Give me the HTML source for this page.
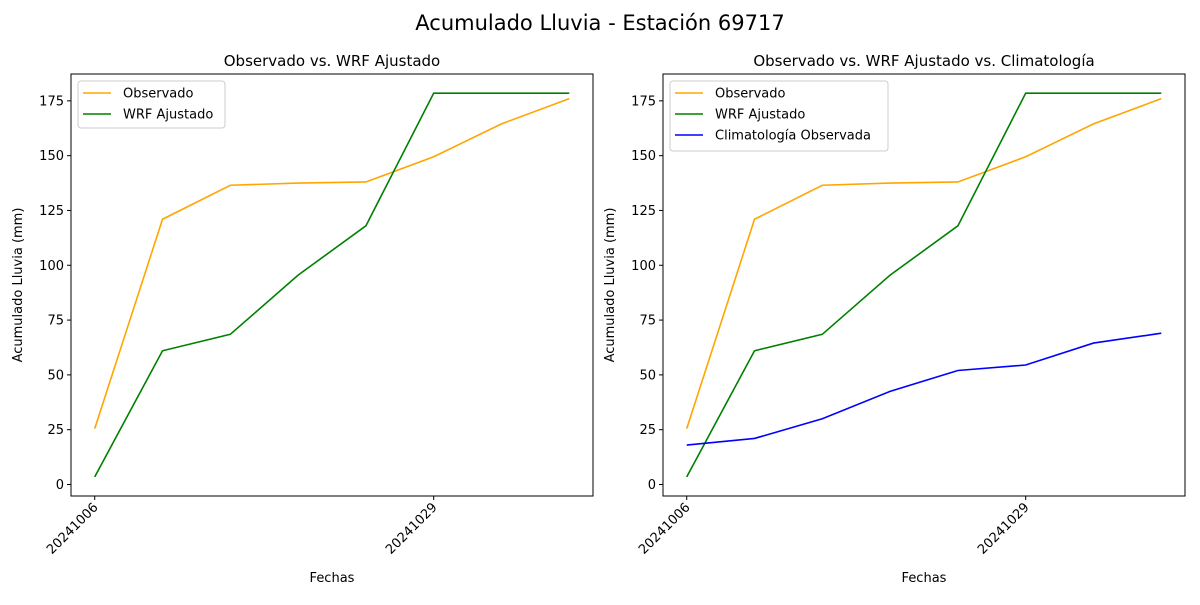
<!DOCTYPE html>
<html><head><meta charset="utf-8"><style>
body{margin:0;background:#fff;font-family:"Liberation Sans","DejaVu Sans",sans-serif}
svg text{font-family:"DejaVu Sans","Liberation Sans",sans-serif}
</style></head><body>
<svg id="chart" width="1200" height="600" xmlns="http://www.w3.org/2000/svg">
<rect width="1200" height="600" fill="#fff"/>
<text x="600" y="30" text-anchor="middle" font-size="21">Acumulado Lluvia - Estación 69717</text>
</svg>
<script>
const categories = ["20241006","","","","","20241029","",""];
const tickIdx = [0,5];
const observado = [25.5,121,136.5,137.5,138,149.5,164.5,176];
const wrf = [3.5,61,68.5,95.5,118,178.5,178.5,178.5];
const clima = [18,21,30,42.5,52,54.5,64.5,69];
const yTicks = [0,25,50,75,100,125,150,175];
const NS='http://www.w3.org/2000/svg';
const svg=document.getElementById('chart');
function mk(t,a,p){const e=document.createElementNS(NS,t);for(const k in a)e.setAttribute(k,a[k]);(p||svg).appendChild(e);return e;}
const yMin=-5.25,yMax=187.25,pTop=74,pBot=496;
function yS(v){return pBot-(v-yMin)/(yMax-yMin)*(pBot-pTop);}
function panel(left,right,title,series,legendW,pname){
  const g=mk('g',{});
  
  
  const n=categories.length,xMin=-0.35,xMax=n-1+0.35;
  const xS=i=>left+(i-xMin)/(xMax-xMin)*(right-left);
  const t=mk('text',{x:(left+right)/2,y:66,'text-anchor':'middle','font-size':15},g);t.textContent=title;
  
  
  yTicks.forEach(v=>{const y=yS(v);mk('line',{x1:left-4,x2:left,y1:y,y2:y,stroke:'#000'},g);
    const tx=mk('text',{x:left-7,y:y+4.5,'text-anchor':'end','font-size':13},g);tx.textContent=v;
    
    });
  tickIdx.forEach(i=>{const x=xS(i);mk('line',{x1:x,x2:x,y1:pBot,y2:pBot+4,stroke:'#000'},g);
    const tx=mk('text',{x:x+4,y:pBot+12,'text-anchor':'end','font-size':13,transform:`rotate(-45 ${x+4} ${pBot+12})`},g);tx.textContent=categories[i];
    
    });
  const yl=mk('text',{x:left-49,y:(pTop+pBot)/2,'text-anchor':'middle','font-size':13,transform:`rotate(-90 ${left-49} ${(pTop+pBot)/2})`},g);yl.textContent='Acumulado Lluvia (mm)';
  
  
  const xl=mk('text',{x:(left+right)/2,y:582,'text-anchor':'middle','font-size':13},g);xl.textContent='Fechas';
  
  
  series.forEach(s=>{const p=mk('polyline',{points:s.d.map((v,i)=>xS(i)+','+yS(v)).join(' '),fill:'none',stroke:s.c,'stroke-width':1.6},g);
    
    });
  mk('rect',{x:left,y:pTop,width:right-left,height:pBot-pTop,fill:'none',stroke:'#000','stroke-width':1},g);
  const lg=mk('g',{},g);
  
  
  mk('rect',{x:left+7,y:81,width:legendW,height:series.length*23+1,fill:'#fff',stroke:'#ccc',rx:3},lg);
  series.forEach((s,k)=>{const y=93+k*21;
    mk('line',{x1:left+12,x2:left+40,y1:y,y2:y,stroke:s.c,'stroke-width':1.6},lg);
    const tx=mk('text',{x:left+52,y:y+4.5,'font-size':13},lg);tx.textContent=s.n;
    
    });
}
const o={id:'observado',n:'Observado',c:'#FFA500',d:observado},w={id:'wrf',n:'WRF Ajustado',c:'#008000',d:wrf},c={id:'climatologia',n:'Climatología Observada',c:'#0000FF',d:clima};
panel(71,593,'Observado vs. WRF Ajustado',[o,w],147,'left-panel');
panel(663,1185,'Observado vs. WRF Ajustado vs. Climatología',[o,w,c],218,'right-panel');
</script>
</body></html>
